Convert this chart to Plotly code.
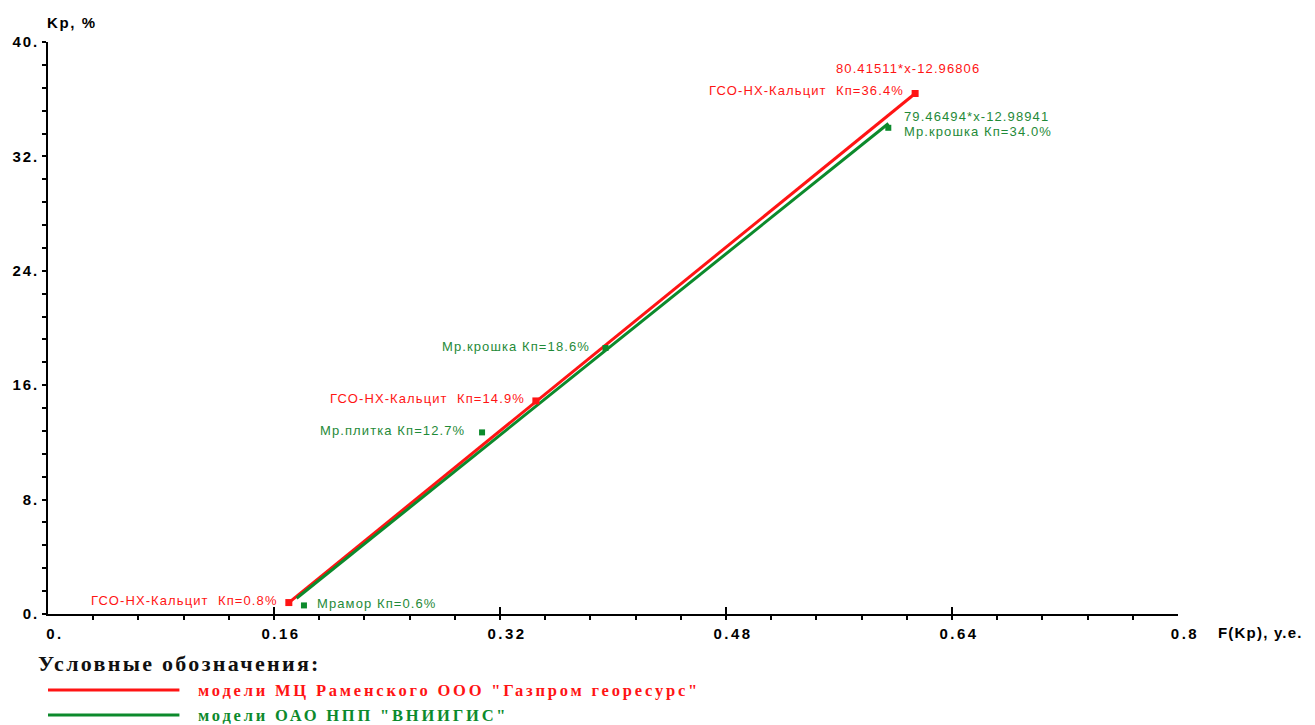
import plotly.graph_objects as go

# --- calibration data -------------------------------------------------------
# model lines (end points of the fitted lines)
red_line_x = [0.1705, 0.6139]
red_line_y = [0.8, 36.4]
green_line_x = [0.1760, 0.5950]
green_line_y = [1.1, 34.3]

# reference samples, model 1 (ГСО-НХ-Кальцит)
red_pts_x = [0.1705, 0.3454, 0.6139]
red_pts_y = [0.8, 14.9, 36.4]
red_pts_labels = ["ГСО-НХ-Кальцит  Кп=0.8%", "ГСО-НХ-Кальцит  Кп=14.9%", "ГСО-НХ-Кальцит  Кп=36.4%"]

# reference samples, model 2 (marble)
green_pts_x = [0.1812, 0.3073, 0.3947, 0.5949]
green_pts_y = [0.6, 12.7, 18.6, 34.0]
green_pts_labels = ["Мрамор Кп=0.6%", "Мр.плитка Кп=12.7%", "Мр.крошка Кп=18.6%", "Мр.крошка Кп=34.0%"]

red_equation = "80.41511*x-12.96806"
green_equation = "79.46494*x-12.98941"

x_ticks = [0, 0.16, 0.32, 0.48, 0.64, 0.8]
x_ticktext = ["0.", "0.16", "0.32", "0.48", "0.64", "0.8"]
y_ticks = [0, 8, 16, 24, 32, 40]
y_ticktext = ["0.", "8.", "16.", "24.", "32.", "40."]

legend_title = "Условные обозначения:"
legend_items = ['модели МЦ Раменского ООО "Газпром георесурс"', 'модели ОАО НПП "ВНИИГИС"']

RED = "#ff1414"
GREEN = "#0c8a2c"
GREEN_TXT = "#1f8a38"
SANS = "Liberation Sans, Arial, sans-serif"
SERIF = "Liberation Serif, Times New Roman, serif"

PLOT_W, PLOT_H = 1135, 572

# label placement: (xanchor, xshift, yshift) in pixels relative to the marker
red_label_place = [("right", -9, 2), ("right", -9, 2), ("right", -9, 3)]
green_label_place = [("left", 11, 2), ("right", -15, 2), ("right", -14, 2), ("left", 14, -4)]


def spaced(txt, px):
    return f'<span style="letter-spacing:{px}px">{txt}</span>'


fig = go.Figure()

fig.add_trace(go.Scatter(x=red_line_x, y=red_line_y, mode="lines",
                         line=dict(color=RED, width=3), showlegend=False, hoverinfo="skip"))
fig.add_trace(go.Scatter(x=green_line_x, y=green_line_y, mode="lines",
                         line=dict(color=GREEN, width=3), showlegend=False, hoverinfo="skip"))
fig.add_trace(go.Scatter(x=red_pts_x, y=red_pts_y, mode="markers",
                         marker=dict(symbol="square", size=7, color=RED), showlegend=False))
fig.add_trace(go.Scatter(x=green_pts_x, y=green_pts_y, mode="markers",
                         marker=dict(symbol="square", size=6, color=GREEN), showlegend=False))

ann_font = dict(family=SANS, size=13)
LBL_SP = 1.1

for x, y, t, (anc, dx, dy) in zip(red_pts_x, red_pts_y, red_pts_labels, red_label_place):
    fig.add_annotation(x=x, y=y, text=spaced(t, LBL_SP), showarrow=False, xanchor=anc,
                       yanchor="middle", xshift=dx, yshift=dy,
                       font=dict(color=RED, **ann_font))

for x, y, t, (anc, dx, dy) in zip(green_pts_x, green_pts_y, green_pts_labels, green_label_place):
    fig.add_annotation(x=x, y=y, text=spaced(t, LBL_SP), showarrow=False, xanchor=anc,
                       yanchor="middle", xshift=dx, yshift=dy,
                       font=dict(color=GREEN_TXT, **ann_font))

# regression equations near the upper ends of the lines
fig.add_annotation(x=red_line_x[-1], y=red_line_y[-1], text=spaced(red_equation, LBL_SP),
                   showarrow=False, xanchor="center", yanchor="middle", xshift=-7, yshift=25,
                   font=dict(color=RED, **ann_font))
fig.add_annotation(x=green_line_x[-1], y=green_line_y[-1], text=spaced(green_equation, LBL_SP),
                   showarrow=False, xanchor="left", yanchor="middle", xshift=14, yshift=7,
                   font=dict(color=GREEN_TXT, **ann_font))

# axis titles
fig.add_annotation(xref="paper", yref="paper", x=0, y=1, xanchor="left", yanchor="bottom",
                   xshift=-3, yshift=9, text=spaced("Kp, %", 1.6), showarrow=False,
                   font=dict(family=SANS, size=15, color="black", weight="bold"))
fig.add_annotation(xref="paper", yref="paper", x=1, y=0, xanchor="left", yanchor="middle",
                   xshift=38, yshift=-18, text=spaced("F(Kp), y.e.", 1.2), showarrow=False,
                   font=dict(family=SANS, size=15, color="black", weight="bold"))

# legend block under the plot
fig.add_annotation(xref="paper", yref="paper", x=0, y=0, xanchor="left", yanchor="middle",
                   xshift=-12, yshift=-49, text=f"<b>{spaced(legend_title, 2.3)}</b>", showarrow=False,
                   font=dict(family=SERIF, size=22, color="#111111"))
legend_colors = [RED, GREEN]
legend_offsets = [76, 101]
for txt, col, offset in zip(legend_items, legend_colors, legend_offsets):
    fig.add_shape(type="line", xref="paper", yref="paper", x0=0, x1=132 / PLOT_W,
                  y0=-offset / PLOT_H, y1=-offset / PLOT_H,
                  line=dict(color=col, width=3))
    fig.add_annotation(xref="paper", yref="paper", x=150 / PLOT_W, y=0, xanchor="left",
                       yanchor="middle", yshift=-offset, text=f"<b>{spaced(txt, 2.8)}</b>",
                       showarrow=False, borderpad=0,
                       font=dict(family=SERIF, size=16.5, color=col))

axis_common = dict(showgrid=False, zeroline=False, showline=True, linecolor="black",
                   linewidth=1.5, tickcolor="black", tickwidth=1.5)

fig.update_xaxes(range=[0, 0.8], tickvals=x_ticks,
                 ticktext=[spaced(t, 2.5) for t in x_ticktext],
                 tickfont=dict(family=SANS, size=15, color="black", weight="bold"),
                 ticks="inside", ticklen=7, ticklabelshift=7, ticklabelstandoff=5,
                 minor=dict(dtick=0.032, ticks="outside", ticklen=4, tickcolor="black", tickwidth=1.5),
                 **axis_common)
fig.update_yaxes(range=[0, 40], tickvals=y_ticks,
                 ticktext=[spaced(t, 2) for t in y_ticktext],
                 tickfont=dict(family=SANS, size=15, color="black", weight="bold"),
                 ticks="outside", ticklen=4,
                 minor=dict(dtick=1.6, ticks="outside", ticklen=4, tickcolor="black", tickwidth=1.5),
                 **axis_common)

fig.update_layout(width=1315, height=725, autosize=False,
                  margin=dict(l=43, r=137, t=42, b=111),
                  plot_bgcolor="white", paper_bgcolor="white", showlegend=False)

fig.write_html("out.html")
